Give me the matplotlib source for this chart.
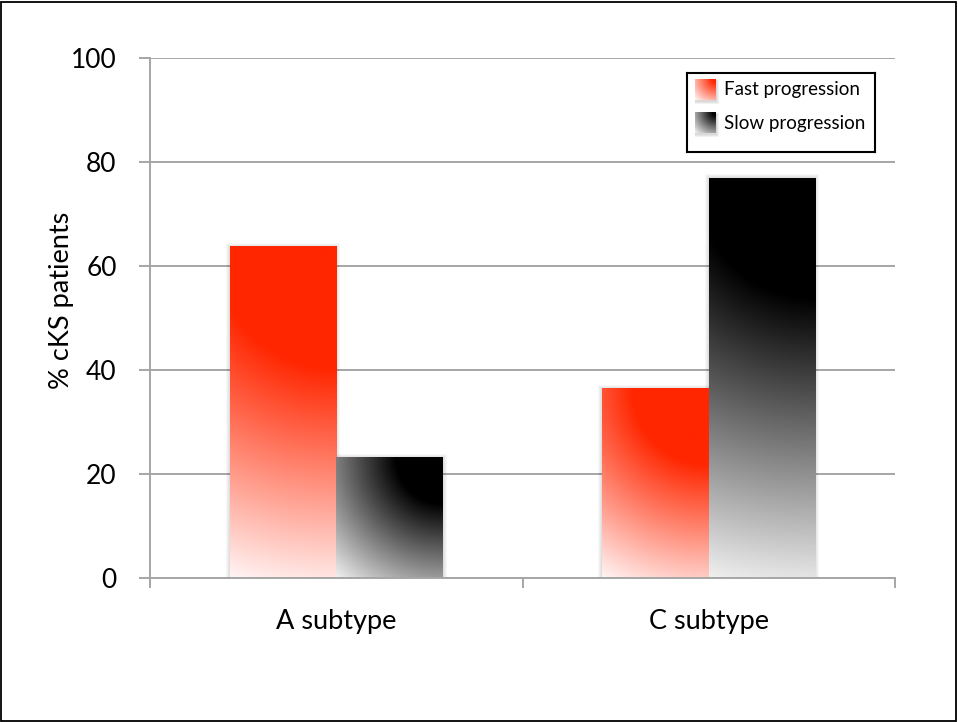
import numpy as np
import matplotlib
matplotlib.use("Agg")
import matplotlib.pyplot as plt
from matplotlib.patches import Rectangle

categories = ["A subtype", "C subtype"]
series_names = ["Fast progression", "Slow progression"]
fast = [63.7, 36.4]
slow = [23.1, 76.9]
yticks = [0, 20, 40, 60, 80, 100]

RED = np.array([255, 38, 0]) / 255
RED_END = np.array([255, 245, 245]) / 255
BLACK = np.array([0, 0, 0]) / 255
BLACK_END = np.array([240, 240, 240]) / 255
GRID = "#A6A6A6"

plt.rcParams['font.family'] = ['Lato', 'DejaVu Sans']

W, H = 958, 722
fig = plt.figure(figsize=(W / 100, H / 100), dpi=100)
ax = fig.add_axes([150 / W, 1 - 578 / H, 745 / W, 520 / H])
ax.set_xlim(-0.5, 1.5)
ax.set_ylim(0, 100)

x = np.arange(len(categories))
bw = 0.286
bars_fast = ax.bar(x - bw / 2, fast, bw, facecolor="none", edgecolor="none", zorder=3)
bars_slow = ax.bar(x + bw / 2, slow, bw, facecolor="none", edgecolor="none", zorder=3)


def radial_fill(target_ax, x0, y0, w, h, pw, ph, color, end, t0, zorder=3):
    """Fill a rectangle with a radial gradient spreading from its top-right corner."""
    nx, ny = max(int(abs(pw)), 2), max(int(abs(ph)), 2)
    u = np.linspace(0, 1, nx)
    v = np.linspace(1, 0, ny)
    U, V = np.meshgrid(u, v)
    d = np.hypot((1 - U) * pw, (1 - V) * ph) / np.hypot(pw, ph)
    wgt = np.clip((d - t0) / (1 - t0), 0, 1)[..., None]
    rgb = color * (1 - wgt) + end * wgt
    target_ax.imshow(rgb, extent=(x0, x0 + w, y0, y0 + h), origin="upper",
                     aspect="auto", zorder=zorder, interpolation="bilinear")


def px_per_data(target_ax):
    p0 = target_ax.transData.transform((0, 0))
    p1 = target_ax.transData.transform((1, 1))
    return p1 - p0


sx, sy = px_per_data(ax)
for bars, col, end, t0 in [(bars_fast, RED, RED_END, 0.35), (bars_slow, BLACK, BLACK_END, 0.29)]:
    for p in bars:
        x0, y0, w, h = p.get_x(), p.get_y(), p.get_width(), p.get_height()
        # soft drop shadow
        for k in range(1, 5):
            ax.add_patch(Rectangle((x0 - k / sx, y0), w + 2 * k / sx, h + k / sy,
                                   facecolor="black", edgecolor="none", alpha=0.03, zorder=2.5))
        radial_fill(ax, x0, y0, w, h, w * sx, h * sy, col, end, t0)

ax.set_xlim(-0.5, 1.5)
ax.set_ylim(0, 100)

# axes styling
ax.set_yticks(yticks)
ax.set_yticklabels([str(t) for t in yticks])
ax.yaxis.grid(True, color=GRID, lw=1.4, zorder=1)
ax.set_axisbelow(True)
for s in ["top", "right"]:
    ax.spines[s].set_visible(False)
for s in ["left", "bottom"]:
    ax.spines[s].set_color(GRID)
    ax.spines[s].set_linewidth(1.4)
    ax.spines[s].set_zorder(4)
ax.tick_params(axis="y", length=8, width=1.4, color=GRID, pad=16, labelsize=19)
ax.set_xticks(x)
ax.set_xticklabels(categories)
ax.set_xticks([-0.5, 0.5, 1.5], minor=True)
ax.tick_params(axis="x", which="major", length=0, pad=22, labelsize=19.5)
ax.tick_params(axis="x", which="minor", length=7, width=1.4, color=GRID)

fig.text(62 / W, 1 - 300 / H, "% cKS patients", rotation=90, ha="center", va="center", fontsize=19.5)

# legend box
lx0, ly0, lx1, ly1 = 687, 73, 875, 152
lax = fig.add_axes([lx0 / W, 1 - ly1 / H, (lx1 - lx0) / W, (ly1 - ly0) / H], zorder=5)
lax.set_xticks([])
lax.set_yticks([])
for s in lax.spines.values():
    s.set_color("black")
    s.set_linewidth(1.5)
for name, col, end, cy in [(series_names[0], RED, RED_END, 90),
                           (series_names[1], BLACK, BLACK_END, 123)]:
    for k in range(1, 4):
        lax.add_patch(Rectangle((695, cy - 10), 21 + k, 21 + k,
                                facecolor="black", edgecolor="none", alpha=0.05, zorder=1))
    # the y axis runs downward here, so y0 is the bottom edge of the square
    radial_fill(lax, 695, cy + 10.5, 21, -21, 21, 21, col, end, 0.1, zorder=2)
    lax.text(724, cy, name, ha="left", va="center", fontsize=13.5)
lax.set_xlim(lx0, lx1)
lax.set_ylim(ly1, ly0)

fig.add_artist(Rectangle((1 / W, 1 / H), (W - 3) / W, (H - 3) / H, transform=fig.transFigure,
                         fill=False, edgecolor="black", lw=1.3))

fig.savefig("out.png", dpi=100)
